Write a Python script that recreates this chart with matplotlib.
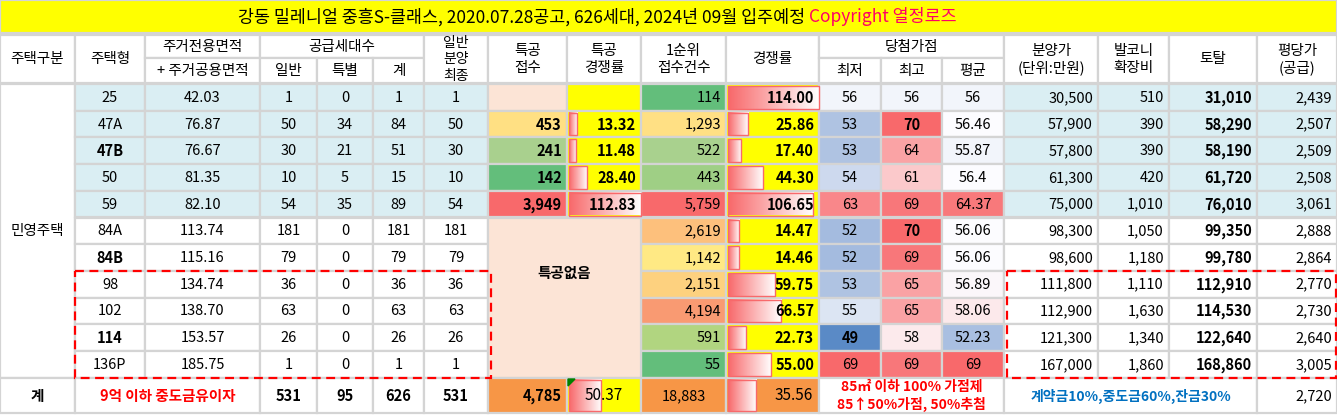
import matplotlib
matplotlib.use("Agg")
import matplotlib.pyplot as plt
import numpy as np
from matplotlib.patches import Rectangle
from matplotlib.colors import LinearSegmentedColormap

plt.rcParams['font.family'] = ['Noto Sans CJK KR', 'DejaVu Sans']

# ---------------- data ----------------
title_main = "강동 밀레니얼 중흥S-클래스, 2020.07.28공고, 626세대, 2024년 09월 입주예정 "
title_copy = "Copyright 열정로즈"
types = ["25", "47A", "47B", "50", "59", "84A", "84B", "98", "102", "114", "136P"]
bold_types = ["47B", "84B", "114"]
area = ["42.03", "76.87", "76.67", "81.35", "82.10", "113.74", "115.16", "134.74", "138.70", "153.57", "185.75"]
general = [1, 50, 30, 10, 54, 181, 79, 36, 63, 26, 1]
special = [0, 34, 21, 5, 35, 0, 0, 0, 0, 0, 0]
total_units = [1, 84, 51, 15, 89, 181, 79, 36, 63, 26, 1]
general_final = [1, 50, 30, 10, 54, 181, 79, 36, 63, 26, 1]
sp_apply = [None, 453, 241, 142, 3949]
sp_rate = [None, 13.32, 11.48, 28.40, 112.83]
first_apply = [114, 1293, 522, 443, 5759, 2619, 1142, 2151, 4194, 591, 55]
comp_rate = [114.00, 25.86, 17.40, 44.30, 106.65, 14.47, 14.46, 59.75, 66.57, 22.73, 55.00]
score_min = ["56", "53", "53", "54", "63", "52", "52", "53", "55", "49", "69"]
score_max = ["56", "70", "64", "61", "69", "70", "69", "65", "65", "58", "69"]
score_avg = ["56", "56.46", "55.87", "56.4", "64.37", "56.06", "56.06", "56.89", "58.06", "52.23", "69"]
price = [30500, 57900, 57800, 61300, 75000, 98300, 98600, 111800, 112900, 121300, 167000]
balcony = [510, 390, 390, 420, 1010, 1050, 1180, 1110, 1630, 1340, 1860]
total_price = [31010, 58290, 58190, 61720, 76010, 99350, 99780, 112910, 114530, 122640, 168860]
per_pyeong = [2439, 2507, 2509, 2508, 3061, 2888, 2864, 2770, 2730, 2640, 3005]
sum_general, sum_special, sum_units, sum_final = 531, 95, 626, 531
sum_sp_apply, sum_sp_rate = 4785, 50.37
sum_first, sum_comp = 18883, 35.56
sum_ppy = 2720

# ---------------- styles ----------------
LB = "#DAEEF3"
sp_apply_col = ["#FCE4D6", "#FFE083", "#A9D08E", "#63BE7B", "#F8696B"]
first_col = ["#63BE7B", "#FFE084", "#A9D18E", "#9FCF85", "#F8696B", "#FDC07C",
             "#FFE984", "#FDD17F", "#F99A72", "#B1D580", "#63BE7B"]
min_col = ["#F2F5FB", "#AFC3E2", "#AFC3E2", "#CDD9EE", "#F9878A", "#A4BBDF",
           "#A4BBDF", "#AFC3E2", "#DCE5F3", "#5A8AC6", "#F8696B"]
max_col = ["#F2F5FB", "#F8696B", "#FAA3A5", "#FBC9CB", "#F8777A", "#F8696B",
           "#F8777A", "#FAA2A4", "#FAA2A4", "#FCEAEC", "#F8777A"]
avg_col = ["#F2F5FB", "#FCFCFF", "#F2F5FB", "#FCFCFF", "#F8797B", "#FCFCFF",
           "#FCFCFF", "#FBF7FA", "#FCE9EB", "#A9BFE1", "#F8696B"]

xs = [0, 75, 145, 260, 317, 373, 424, 488, 567, 641, 726, 819, 881, 942, 1004, 1098, 1169, 1257, 1337]
row_top = 84
rh = 26.7
tot_top, tot_bot = 378, 413

fig = plt.figure(figsize=(13.37, 4.15), dpi=100)
ax = fig.add_axes([0, 0, 1, 1])
ax.set_xlim(0, 1337)
ax.set_ylim(415, 0)
ax.axis("off")
GRID = "#D4D4D4"

def cell(x0, x1, y0, y1, fc="white", text=None, color="black", bold=False,
         ha="center", size=10.5, family=None):
    ax.add_patch(Rectangle((x0, y0), x1 - x0, y1 - y0, facecolor=fc,
                           edgecolor=GRID, lw=1.6, zorder=1))
    if text is not None:
        if ha == "center":
            tx = (x0 + x1) / 2
        elif ha == "right":
            tx = x1 - 5
        else:
            tx = x0 + 5
        ax.text(tx, (y0 + y1) / 2 + 0.5, text, ha=ha, va="center", color=color,
                fontsize=size, fontweight="bold" if bold else "normal", zorder=5)

cmap = LinearSegmentedColormap.from_list("bar", ["#F8696B", "#FFFFFF"])
grad = np.linspace(0, 1, 64).reshape(1, -1)

def databar(x0, x1, y0, y1, frac):
    w = (x1 - x0 - 2) * frac
    bx0, by0, by1 = x0 + 1.5, y0 + 2, y1 - 2
    ax.imshow(grad, cmap=cmap, extent=[bx0, bx0 + w, by1, by0], aspect="auto", zorder=3)
    ax.add_patch(Rectangle((bx0, by0), w, by1 - by0, fill=False, edgecolor="#F8696B", lw=1, zorder=4))

# title
ax.add_patch(Rectangle((0, 0), 1337, 33, facecolor="#FFFF00", edgecolor=GRID, lw=1.6))
t1 = ax.text(238, 17, title_main, ha="left", va="center", fontsize=12.5)
fig.canvas.draw()
bb = t1.get_window_extent()
ax.text(bb.x1, 17, title_copy, ha="left", va="center", fontsize=12.5, color="#FF0066",
        transform=None) if False else None
x_end = ax.transData.inverted().transform((bb.x1, 0))[0]
ax.text(x_end, 17, title_copy, ha="left", va="center", fontsize=12.5, color="#FF0066")

# headers
h0, h1, h2 = 35, 58, 83
cell(xs[0], xs[1], h0, h2, text="주택구분")
cell(xs[1], xs[2], h0, h2, text="주택형")
cell(xs[2], xs[3], h0, h1, text="주거전용면적")
cell(xs[2], xs[3], h1, h2, text="+ 주거공용면적")
cell(xs[3], xs[6], h0, h1, text="공급세대수")
for i, t in enumerate(["일반", "특별", "계"]):
    cell(xs[3 + i], xs[4 + i], h1, h2, text=t)
cell(xs[6], xs[7], h0, h2, text="일반\n분양\n최종", size=10)
cell(xs[7], xs[8], h0, h2, text="특공\n접수")
cell(xs[8], xs[9], h0, h2, text="특공\n경쟁률")
cell(xs[9], xs[10], h0, h2, text="1순위\n접수건수")
cell(xs[10], xs[11], h0, h2, text="경쟁률")
cell(xs[11], xs[14], h0, h1, text="당첨가점")
for i, t in enumerate(["최저", "최고", "평균"]):
    cell(xs[11 + i], xs[12 + i], h1, h2, text=t)
cell(xs[14], xs[15], h0, h2, text="분양가\n(단위:만원)")
cell(xs[15], xs[16], h0, h2, text="발코니\n확장비")
cell(xs[16], xs[17], h0, h2, text="토탈")
cell(xs[17], xs[18], h0, h2, text="평당가\n(공급)")

n = len(types)
ys = [row_top + i * rh for i in range(n + 1)]
cell(xs[0], xs[1], ys[0], ys[n], text="민영주택")
max_sp = max(v for v in sp_rate if v is not None)
max_comp = max(comp_rate)
for i in range(n):
    y0, y1 = ys[i], ys[i + 1]
    bg = LB if i < 5 else "white"
    cell(xs[1], xs[2], y0, y1, bg, types[i], bold=types[i] in bold_types)
    cell(xs[2], xs[3], y0, y1, bg, area[i])
    cell(xs[3], xs[4], y0, y1, bg, f"{general[i]}")
    cell(xs[4], xs[5], y0, y1, bg, f"{special[i]}")
    cell(xs[5], xs[6], y0, y1, bg, f"{total_units[i]}")
    cell(xs[6], xs[7], y0, y1, bg, f"{general_final[i]}")
    if i < 5:
        v = sp_apply[i]
        cell(xs[7], xs[8], y0, y1, sp_apply_col[i], None if v is None else f"{v:,}", bold=True, ha="right")
        r = sp_rate[i]
        cell(xs[8], xs[9], y0, y1, "#FFFF00")
        if r is not None:
            databar(xs[8], xs[9], y0, y1, r / max_sp)
            ax.text(xs[9] - 5, (y0 + y1) / 2 + 0.5, f"{r:.2f}", ha="right", va="center",
                    fontsize=10.5, fontweight="bold", zorder=6)
    cell(xs[9], xs[10], y0, y1, first_col[i], f"{first_apply[i]:,}", ha="right")
    cell(xs[10], xs[11], y0, y1, "#FFFF00")
    databar(xs[10], xs[11], y0, y1, comp_rate[i] / max_comp)
    ax.text(xs[11] - 5, (y0 + y1) / 2 + 0.5, f"{comp_rate[i]:.2f}", ha="right", va="center",
            fontsize=10.5, fontweight="bold", zorder=6)
    cell(xs[11], xs[12], y0, y1, min_col[i], score_min[i], bold=(score_min[i] == "49"))
    cell(xs[12], xs[13], y0, y1, max_col[i], score_max[i], bold=(score_max[i] == "70"))
    cell(xs[13], xs[14], y0, y1, avg_col[i], score_avg[i])
    cell(xs[14], xs[15], y0, y1, bg, f"{price[i]:,}", ha="right")
    cell(xs[15], xs[16], y0, y1, bg, f"{balcony[i]:,}", ha="right")
    cell(xs[16], xs[17], y0, y1, bg, f"{total_price[i]:,}", bold=True, ha="right")
    cell(xs[17], xs[18], y0, y1, bg, f"{per_pyeong[i]:,}", ha="right")

# merged 특공없음
cell(xs[7], xs[9], ys[5], ys[n], "#FCE4D6")
ax.text((xs[7] + xs[9]) / 2, ys[7] + 2, "특공없음", ha="center", va="center",
        fontsize=10.5, fontweight="bold", zorder=6)

# totals row
cell(xs[0], xs[1], tot_top, tot_bot, text="계", bold=True)
cell(xs[1], xs[3], tot_top, tot_bot, text="9억 이하 중도금유이자", color="#FF0000", bold=True)
cell(xs[3], xs[4], tot_top, tot_bot, text=f"{sum_general}", bold=True)
cell(xs[4], xs[5], tot_top, tot_bot, text=f"{sum_special}", bold=True)
cell(xs[5], xs[6], tot_top, tot_bot, text=f"{sum_units}", bold=True)
cell(xs[6], xs[7], tot_top, tot_bot, text=f"{sum_final}", bold=True)
cell(xs[7], xs[8], tot_top, tot_bot, "#F79646", f"{sum_sp_apply:,}", bold=True, ha="right")
cell(xs[8], xs[9], tot_top, tot_bot, "#FFFF00")
databar(xs[8], xs[9], tot_top, tot_bot, sum_sp_rate / max_sp)
ax.text((xs[8] + xs[9]) / 2, (tot_top + tot_bot) / 2, f"{sum_sp_rate:.2f}", ha="center",
        va="center", fontsize=11, zorder=6)
ax.add_patch(plt.Polygon([[xs[8] + 1, tot_top + 1], [xs[8] + 8, tot_top + 1], [xs[8] + 1, tot_top + 8]],
                         color="#008000", zorder=7))
cell(xs[9], xs[10], tot_top, tot_bot, "#F79646", f"{sum_first:,}")
cell(xs[10], xs[11], tot_top, tot_bot, "#F79646")
databar(xs[10], xs[11], tot_top, tot_bot, sum_comp / max_comp)
ax.text(xs[11] - 6, (tot_top + tot_bot) / 2, f"{sum_comp:.2f}", ha="right", va="center",
        fontsize=11, zorder=6)
cell(xs[11], xs[14], tot_top, tot_bot)
ax.text((xs[11] + xs[14]) / 2, tot_top + 9, "85㎡ 이하 100% 가점제", ha="center", va="center",
        color="#FF0000", fontsize=10, fontweight="bold", zorder=6)
ax.text((xs[11] + xs[14]) / 2, tot_top + 26, "85↑50%가점, 50%추첨", ha="center", va="center",
        color="#FF0000", fontsize=10, fontweight="bold", zorder=6)
cell(xs[14], xs[17], tot_top, tot_bot, text="계약금10%,중도금60%,잔금30%", color="#0070C0", bold=True, size=10)
cell(xs[17], xs[18], tot_top, tot_bot, text=f"{sum_ppy:,}", ha="right")

# dashed red boxes
for bx0, bx1 in [(75, 491), (1007, 1336)]:
    ax.add_patch(Rectangle((bx0, ys[7]), bx1 - bx0, ys[n] - ys[7], fill=False,
                           edgecolor="#FF0000", lw=1.6, ls=(0, (4, 2.5)), zorder=8))

fig.savefig("out.png", dpi=100)
